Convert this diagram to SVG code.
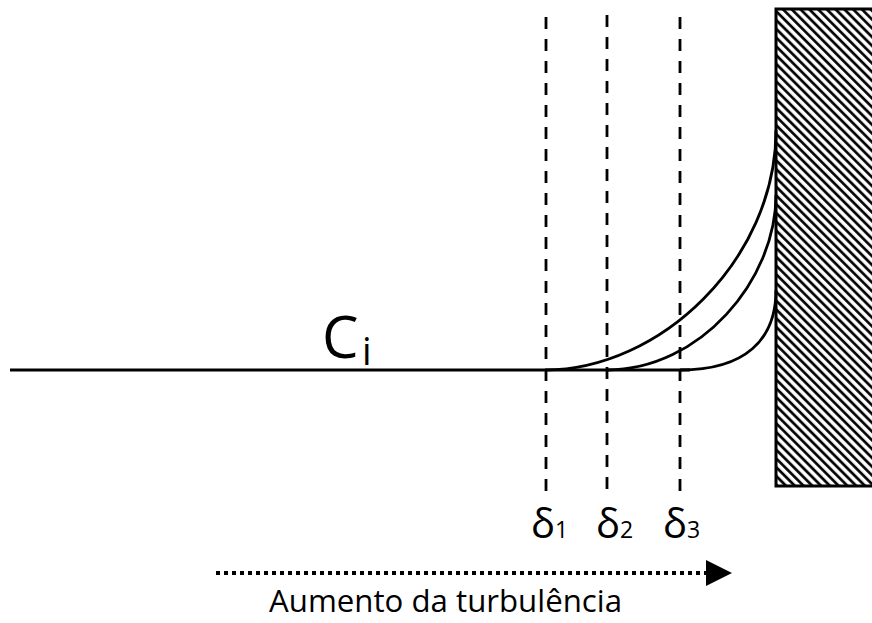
<svg xmlns="http://www.w3.org/2000/svg" width="872" height="623" viewBox="0 0 872 623">
<style>
.ln{fill:none;stroke:#000;stroke-width:2.8}
.dash{fill:none;stroke:#000;stroke-width:2.8;stroke-dasharray:12 10}
.t{font-family:"Open Sans","Liberation Sans",sans-serif;fill:#000}
</style>
<defs>
<pattern id="hatch" patternUnits="userSpaceOnUse" width="6.2" height="6.2" patternTransform="rotate(-45)">
<line x1="1.5" y1="-1" x2="1.5" y2="8" stroke="#000" stroke-width="2.7"/>
</pattern>
<marker id="ah" markerUnits="userSpaceOnUse" markerWidth="28" markerHeight="28" refX="0" refY="13" orient="auto">
<path d="M0,0 L26,13 L0,26 Z" fill="#000"/>
</marker>
</defs>
<rect width="872" height="623" fill="#fff"/>
<g id="wall">
<rect x="776" y="9" width="110" height="477" fill="url(#hatch)" stroke="#000" stroke-width="3"/>
</g>
<g id="connectors">
<line class="dash" x1="546" y1="17" x2="546" y2="492"/>
<line class="dash" x1="607" y1="15" x2="607" y2="490"/>
<line class="dash" x1="680" y1="17" x2="680" y2="492"/>
<line class="ln" x1="10" y1="370" x2="690" y2="370"/>
<path class="ln" d="M545,370 C660,370 776,260 776,130"/>
<path class="ln" d="M607,370 C700,370 776,280 776,195"/>
<path class="ln" d="M680,370 C745,370 776,340 776,290"/>
<line x1="216" y1="573" x2="706" y2="573" stroke="#000" stroke-width="4" stroke-dasharray="4 4" marker-end="url(#ah)"/>
</g>
<g id="label-ci">
<text class="t" x="322" y="358" font-size="58">C</text>
<text class="t" x="362" y="365" font-size="38">i</text>
</g>
<g id="label-d1"><text class="t" x="531" y="538" font-size="40">δ<tspan font-size="23">1</tspan></text></g>
<g id="label-d2"><text class="t" x="596" y="538" font-size="40">δ<tspan font-size="23">2</tspan></text></g>
<g id="label-d3"><text class="t" x="663" y="538" font-size="40">δ<tspan font-size="23">3</tspan></text></g>
<g id="label-turb"><text class="t" x="269" y="612" font-size="31" textLength="353" lengthAdjust="spacingAndGlyphs">Aumento da turbulência</text></g>
</svg>
